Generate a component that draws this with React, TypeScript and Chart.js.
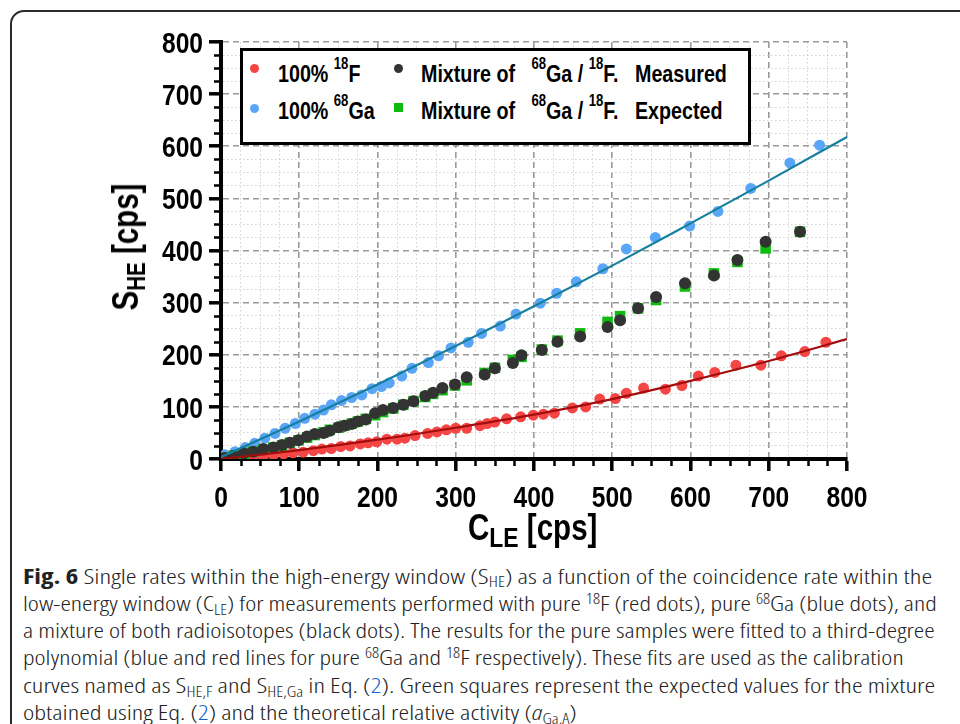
import React, { useEffect, useLayoutEffect, useRef } from 'react';
import { Chart, registerables } from 'chart.js';

Chart.register(...registerables);

// ---- data ----
const pureFX = [6, 16, 29, 41, 54, 67, 80, 92, 105, 118, 129, 141, 153, 165, 178, 188, 199, 212, 225, 235, 248, 264, 276, 288, 300, 314, 331, 340, 350, 365, 383, 399, 412, 426, 449, 466, 484, 504, 518, 540, 568, 589, 610, 631, 658, 690, 716, 746, 773];
const pureFY = [1, 2, 3, 4, 6, 8, 10, 12, 13, 16, 19, 20, 24, 25, 29, 31, 33, 38, 38, 40, 45, 49, 52, 56, 59, 59, 64, 68, 71, 77, 81, 84, 86, 88, 98, 100, 115, 116, 126, 136, 134, 141, 159, 166, 180, 180, 198, 206, 224];

const pureGaX = [5, 18, 31, 43, 56, 69, 82, 95, 107, 120, 131, 141, 154, 167, 180, 193, 205, 215, 231, 244, 265, 278, 294, 316, 333, 357, 377, 408, 429, 454, 488, 518, 555, 599, 635, 677, 727, 765];
const pureGaY = [8, 14, 22, 30, 40, 49, 59, 68, 78, 86, 94, 104, 112, 118, 123, 135, 139, 146, 159, 174, 185, 198, 213, 224, 241, 255, 278, 299, 318, 340, 365, 403, 425, 447, 475, 519, 568, 602];

const mixX = [5, 16, 29, 41, 54, 67, 78, 88, 99, 110, 120, 131, 139, 150, 158, 167, 175, 185, 197, 207, 220, 233, 246, 261, 271, 283, 299, 314, 337, 350, 373, 384, 410, 430, 459, 494, 510, 533, 556, 593, 630, 660, 696, 740];
const mixMeasuredY = [2, 6, 11, 14, 19, 22, 27, 31, 36, 43, 48, 50, 54, 61, 64, 67, 72, 76, 88, 94, 98, 104, 111, 121, 127, 136, 143, 157, 162, 174, 184, 199, 209, 225, 235, 253, 266, 289, 311, 337, 352, 382, 417, 436];
const mixExpectedY = [2, 6, 10, 14, 18, 22, 26, 31, 36, 41, 46, 51, 56, 60, 64, 68, 72, 77, 84, 90, 97, 104, 111, 119, 125, 132, 141, 151, 165, 175, 190, 196, 210, 227, 241, 263, 274, 289, 305, 331, 356, 378, 404, 436];

const fitX = [0, 100, 200, 300, 400, 500, 600, 700, 800];
const fitGaY = [4, 72, 143, 217, 293, 371, 452, 534, 618];
const fitFY = [0, 17, 37, 60, 85, 115, 150, 188, 230];

const axisMin = 0;
const axisMax = 800;
const majorStep = 100;
const minorStep = 25;

const zip = (xs: number[], ys: number[]) => xs.map((x, i) => ({ x, y: ys[i] }));

const FONT = "'Liberation Sans', Arial, sans-serif";
const NARROW = 0.82;

export default function App() {
  const canvasRef = useRef<HTMLCanvasElement | null>(null);
  const lineRefs = useRef<(HTMLDivElement | null)[]>([]);

  useLayoutEffect(() => {
    const ends = [932, 937, 935, 904, 935, 577];
    lineRefs.current.forEach((el, i) => {
      if (!el) return;
      el.style.transform = 'none';
      const w = el.scrollWidth;
      const target = ends[i] - 23;
      if (w > 0) el.style.transform = `scaleX(${target / w})`;
    });
  }, []);

  useEffect(() => {
    const canvas = canvasRef.current;
    if (!canvas) return;
    const isMajor = (v: number) => Math.abs(Math.round(v) % majorStep) === 0;

    const axisDecor = {
      id: 'axisDecor',
      afterDraw(chart: any) {
        const { ctx, scales } = chart;
        const xs = scales.x;
        const ys = scales.y;
        ctx.save();
        ctx.strokeStyle = '#000';
        ctx.lineWidth = 2.5;
        ctx.beginPath();
        for (const t of ys.ticks) {
          if (isMajor(t.value)) continue;
          const py = Math.round(ys.getPixelForValue(t.value)) + 0.5;
          ctx.moveTo(ys.right - 7, py);
          ctx.lineTo(ys.right, py);
        }
        for (const t of xs.ticks) {
          if (isMajor(t.value)) continue;
          const px = Math.round(xs.getPixelForValue(t.value)) + 0.5;
          ctx.moveTo(px, xs.top);
          ctx.lineTo(px, xs.top + 7);
        }
        ctx.stroke();
        // condensed bold tick labels
        ctx.fillStyle = '#000';
        ctx.font = `bold 30px ${FONT}`;
        ctx.textBaseline = 'alphabetic';
        for (const t of ys.ticks) {
          if (!isMajor(t.value)) continue;
          const py = ys.getPixelForValue(t.value);
          ctx.save();
          ctx.translate(ys.right - 18, py + 10.7);
          ctx.scale(NARROW, 1);
          ctx.textAlign = 'right';
          ctx.fillText(String(t.value), 0, 0);
          ctx.restore();
        }
        for (const t of xs.ticks) {
          if (!isMajor(t.value)) continue;
          const px = xs.getPixelForValue(t.value);
          ctx.save();
          ctx.translate(px, xs.top + 48);
          ctx.scale(NARROW, 1);
          ctx.textAlign = 'center';
          ctx.fillText(String(t.value), 0, 0);
          ctx.restore();
        }
        ctx.restore();
      },
    };

    const axis = () => ({
      type: 'linear' as const,
      min: axisMin,
      max: axisMax,
      ticks: {
        stepSize: minorStep,
        autoSkip: false,
        display: false,
      },
      grid: {
        color: (c: any) => (c.tick && isMajor(c.tick.value) ? '#9a9a9a' : '#d2d2d2'),
        lineWidth: (c: any) => (c.tick && isMajor(c.tick.value) ? 1.6 : 1),
        tickLength: 12,
        tickColor: (c: any) => (c.tick && isMajor(c.tick.value) ? '#000' : 'rgba(0,0,0,0)'),
        tickWidth: (c: any) => (c.tick && isMajor(c.tick.value) ? 3.5 : 0),
      },
      border: {
        display: true,
        color: '#000',
        width: 4,
        dash: (c: any) => (c.tick && isMajor(c.tick.value) ? [6, 4] : [1.5, 2.5]),
      },
    });

    const chart = new Chart(canvas, {
      type: 'scatter',
      data: {
        datasets: [
          {
            label: '68Ga fit',
            data: zip(fitX, fitGaY),
            showLine: true,
            pointRadius: 0,
            borderColor: '#167f9f',
            borderWidth: 2.2,
            cubicInterpolationMode: 'monotone',
            order: 0,
          },
          {
            label: '18F fit',
            data: zip(fitX, fitFY),
            showLine: true,
            pointRadius: 0,
            borderColor: '#a30d0d',
            borderWidth: 2.2,
            cubicInterpolationMode: 'monotone',
            order: 1,
          },
          {
            label: 'Mixture measured',
            data: zip(mixX, mixMeasuredY),
            pointStyle: 'circle',
            pointRadius: 6,
            pointBorderWidth: 0,
            pointBackgroundColor: '#333333',
            order: 2,
          },
          {
            label: 'Mixture expected',
            data: zip(mixX, mixExpectedY),
            pointStyle: 'rect',
            pointRadius: 7.5,
            pointBorderWidth: 0,
            pointBackgroundColor: '#10bb10',
            order: 3,
          },
          {
            label: '100% 68Ga',
            data: zip(pureGaX, pureGaY),
            pointStyle: 'circle',
            pointRadius: 5.5,
            pointBorderWidth: 0,
            pointBackgroundColor: '#5aa6f6',
            order: 4,
          },
          {
            label: '100% 18F',
            data: zip(pureFX, pureFY),
            pointStyle: 'circle',
            pointRadius: 5.5,
            pointBorderWidth: 0,
            pointBackgroundColor: '#f54545',
            order: 5,
          },
        ],
      } as any,
      options: {
        animation: false,
        responsive: false,
        maintainAspectRatio: false,
        devicePixelRatio: 1,
        layout: { padding: { left: 0, top: 42, right: 113, bottom: 0 } },
        plugins: { legend: { display: false }, tooltip: { enabled: false } },
        scales: {
          x: { ...axis(), position: 'bottom', afterFit: (s: any) => { s.height = 101; } },
          y: { ...axis(), position: 'left', afterFit: (s: any) => { s.width = 221; } },
        } as any,
      },
      plugins: [axisDecor],
    });
    return () => chart.destroy();
  }, []);

  const bold: React.CSSProperties = {
    fontFamily: FONT, fontWeight: 'bold', color: '#000', whiteSpace: 'pre', position: 'absolute', lineHeight: 1,
    transform: `scaleX(${NARROW})`, transformOrigin: 'left center',
  };
  const sup = (t: string, size: number, raise: number) => (
    <span style={{ fontSize: size, position: 'relative', top: -raise }}>{t}</span>
  );
  const sub = (t: string, size: number, drop: number) => (
    <span style={{ fontSize: size, position: 'relative', top: drop }}>{t}</span>
  );
  const dot = (cx: number, cy: number, color: string, square = false) => (
    <div style={{ position: 'absolute', left: cx - 4.5, top: cy - 4.5, width: 9, height: 9, borderRadius: square ? 0 : '50%', background: color }} />
  );

  const capFont = "'Open Sans', 'Liberation Sans', sans-serif";
  const cs = { fontSize: '0.66em', lineHeight: 0, position: 'relative' as const };
  const S = (t: string) => <span style={{ ...cs, top: '0.28em' }}>{t}</span>;
  const P = (t: string) => <span style={{ ...cs, top: '-0.5em' }}>{t}</span>;
  const link = (t: string) => <span style={{ color: '#1a5fd0' }}>{t}</span>;
  const lineStyle: React.CSSProperties = {
    height: 27.3, lineHeight: '27.3px', whiteSpace: 'nowrap', transformOrigin: 'left center', width: 'max-content',
  };
  const setRef = (i: number) => (el: HTMLDivElement | null) => { lineRefs.current[i] = el; };

  return (
    <div style={{ position: 'fixed', left: 0, top: 0, width: 960, height: 724, overflow: 'hidden', background: '#fff' }}>
      <div style={{ position: 'absolute', left: 10, top: 10, width: 1000, height: 800, border: '2px solid #2a2a2a', borderTopLeftRadius: 14, boxSizing: 'border-box' }} />
      <canvas ref={canvasRef} width={960} height={560} style={{ position: 'absolute', left: 0, top: 0, width: 960, height: 560 }} />

      {/* legend */}
      <div style={{ position: 'absolute', left: 240, top: 48, width: 511, height: 97, border: '3px solid #000', background: '#fff', boxSizing: 'border-box' }} />
      {dot(254, 68, '#f54545')}
      {dot(254, 108, '#5aa6f6')}
      {dot(398, 68, '#333333')}
      {dot(398, 107, '#10bb10', true)}
      <div style={{ ...bold, fontSize: 24, left: 278, top: 82 - 20.3 }}>100% {sup('18', 16, 13)}F</div>
      <div style={{ ...bold, fontSize: 24, left: 278, top: 119 - 20.3 }}>100% {sup('68', 16, 13)}Ga</div>
      <div style={{ ...bold, fontSize: 24, left: 421, top: 82 - 20.3 }}>Mixture of   {sup('68', 16, 13)}Ga / {sup('18', 16, 13)}F.   Measured</div>
      <div style={{ ...bold, fontSize: 24, left: 421, top: 119 - 20.3 }}>Mixture of   {sup('68', 16, 13)}Ga / {sup('18', 16, 13)}F.   Expected</div>

      {/* axis titles */}
      <div style={{ ...bold, fontSize: 36, left: 125.5, top: 246.5, transformOrigin: 'center center', transform: `translate(-50%, -50%) rotate(-90deg) scaleX(${NARROW})` }}>S{sub('HE', 25, 7)} [cps]</div>
      <div style={{ ...bold, fontSize: 36, left: 468, top: 540 - 30.5 }}>C{sub('LE', 28, 7)} [cps]</div>

      {/* caption */}
      <div style={{ position: 'absolute', left: 23, top: 562.5, fontFamily: capFont, fontSize: 21, fontWeight: 300, fontStretch: '75%', color: '#222' }}>
        <div ref={setRef(0)} style={lineStyle}><b style={{ fontWeight: 700 }}>Fig. 6</b> Single rates within the high-energy window (S{S('HE')}) as a function of the coincidence rate within the</div>
        <div ref={setRef(1)} style={lineStyle}>low-energy window (C{S('LE')}) for measurements performed with pure {P('18')}F (red dots), pure {P('68')}Ga (blue dots), and</div>
        <div ref={setRef(2)} style={lineStyle}>a mixture of both radioisotopes (black dots). The results for the pure samples were fitted to a third-degree</div>
        <div ref={setRef(3)} style={lineStyle}>polynomial (blue and red lines for pure {P('68')}Ga and {P('18')}F respectively). These fits are used as the calibration</div>
        <div ref={setRef(4)} style={lineStyle}>curves named as S{S('HE,F')} and S{S('HE,Ga')} in Eq. ({link('2')}). Green squares represent the expected values for the mixture</div>
        <div ref={setRef(5)} style={lineStyle}>obtained using Eq. ({link('2')}) and the theoretical relative activity (<i>a</i>{S('Ga,A')})</div>
      </div>
    </div>
  );
}
